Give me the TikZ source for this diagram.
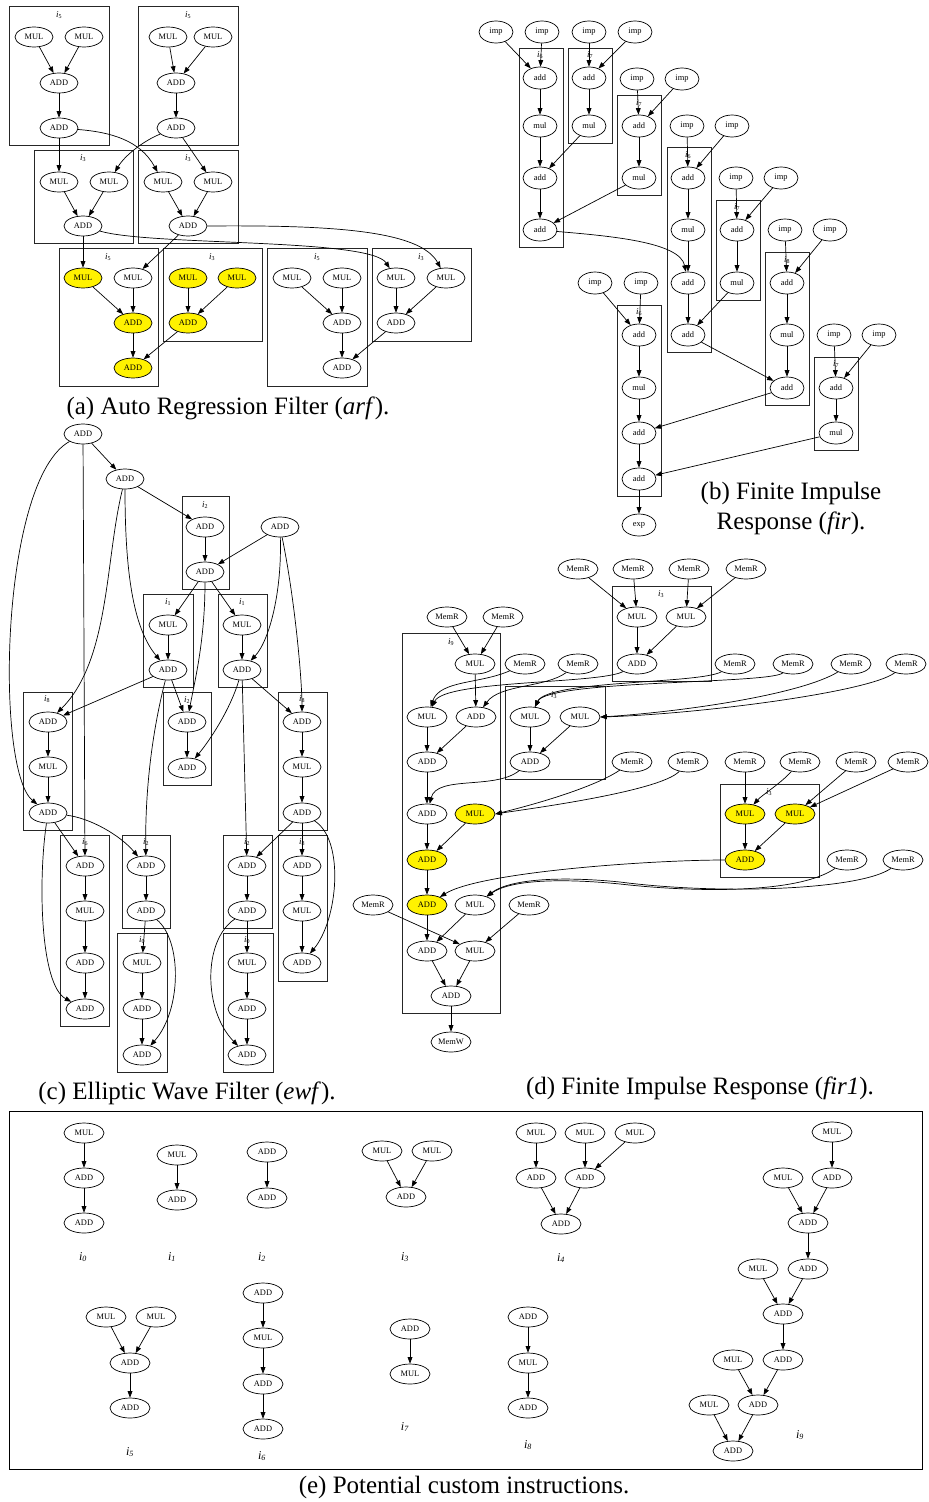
\documentclass[tikz,border=0pt]{standalone}
\usepackage{fontspec}
\setmainfont{Liberation Serif}
\usetikzlibrary{shapes.geometric,arrows.meta}
\newcommand{\ilab}[1]{\textit{i}\textsubscript{#1}}
\newcommand{\elab}[1]{\textit{i}\textsubscript{\textit{#1}}}
\begin{document}
\begin{tikzpicture}[x=1pt,y=-1pt,
 nd/.style={draw, ellipse, fill=white, minimum width=38pt, minimum height=20pt, inner sep=0pt, line width=0.7pt, font=\fontsize{8.4}{9}\selectfont},
 yn/.style={nd, fill=yellow},
 nb/.style={nd, minimum width=34pt, minimum height=22pt},
 nw/.style={nd, minimum width=40pt},
 ywn/.style={nw, fill=yellow},
 bx/.style={draw=black!85, line width=0.9pt},
 ar/.style={-{Triangle[length=6.5pt,width=4.8pt]}, line width=0.7pt},
 lb/.style={inner sep=0pt, font=\fontsize{9}{10}\selectfont},
 el/.style={inner sep=0pt, font=\fontsize{12}{14}\selectfont},
 captxt/.style={inner sep=0pt, font=\fontsize{25}{28}\selectfont},
]
\useasboundingbox (0,0) rectangle (929,1502);
% ================= (a) =================
\draw[bx] (9,6) rectangle (109,145);
\draw[bx] (138,6) rectangle (238,145);
\draw[bx] (34,150) rectangle (133,243);
\draw[bx] (138,150) rectangle (238,243);
\draw[bx] (59,248) rectangle (158,386);
\draw[bx] (163,248) rectangle (262,341);
\draw[bx] (267,248) rectangle (367,386);
\draw[bx] (372,248) rectangle (471,341);
\node[lb] (la1) at (59,15) {\ilab{5}};
\node[lb] (la2) at (188,15) {\ilab{5}};
\node[lb] (la3) at (83,158) {\ilab{3}};
\node[lb] (la4) at (188,158) {\ilab{3}};
\node[lb] (la5) at (108,257) {\ilab{5}};
\node[lb] (la6) at (212,257) {\ilab{3}};
\node[lb] (la7) at (317,257) {\ilab{5}};
\node[lb] (la8) at (421,257) {\ilab{3}};
\node[nd] (a1) at (34,37) {MUL};
\node[nd] (a2) at (84,37) {MUL};
\node[nd] (a3) at (59,83) {ADD};
\node[nd] (a4) at (59,128) {ADD};
\node[nd] (a5) at (168,37) {MUL};
\node[nd] (a6) at (213,37) {MUL};
\node[nd] (a7) at (176,83) {ADD};
\node[nd] (a8) at (176,128) {ADD};
\node[nd] (a9) at (59,182) {MUL};
\node[nd] (a10) at (109,182) {MUL};
\node[nd] (a11) at (83,226) {ADD};
\node[nd] (a12) at (163,182) {MUL};
\node[nd] (a13) at (213,182) {MUL};
\node[nd] (a14) at (188,226) {ADD};
\node[yn] (a15) at (83,278) {MUL};
\node[nd] (a16) at (133,278) {MUL};
\node[yn] (a17) at (133,323) {ADD};
\node[yn] (a18) at (133,368) {ADD};
\node[yn] (a19) at (188,278) {MUL};
\node[yn] (a20) at (237,278) {MUL};
\node[yn] (a21) at (188,323) {ADD};
\node[nd] (a22) at (292,278) {MUL};
\node[nd] (a23) at (342,278) {MUL};
\node[nd] (a24) at (342,323) {ADD};
\node[nd] (a25) at (342,368) {ADD};
\node[nd] (a26) at (396,278) {MUL};
\node[nd] (a27) at (446,278) {MUL};
\node[nd] (a28) at (396,323) {ADD};
\draw[ar] (a1) -- (a3); \draw[ar] (a2) -- (a3); \draw[ar] (a3) -- (a4);
\draw[ar] (a5) -- (a7); \draw[ar] (a6) -- (a7); \draw[ar] (a7) -- (a8);
\draw[ar] (a4) -- (a9);
\draw[ar] (a4) .. controls (110,132) and (140,140) .. (a12);
\draw[ar] (a8) .. controls (145,140) and (125,155) .. (a10);
\draw[ar] (a8) -- (a13);
\draw[ar] (a9) -- (a11); \draw[ar] (a10) -- (a11);
\draw[ar] (a12) -- (a14); \draw[ar] (a13) -- (a14);
\draw[ar] (a11) -- (a15);
\draw[ar] (a11) .. controls (150,246) and (370,238) .. (a26);
\draw[ar] (a14) -- (a16);
\draw[ar] (a14.east) .. controls (330,225) and (420,230) .. (a27);
\draw[ar] (a15) -- (a17); \draw[ar] (a16) -- (a17); \draw[ar] (a17) -- (a18);
\draw[ar] (a19) -- (a21); \draw[ar] (a20) -- (a21); \draw[ar] (a21) -- (a18);
\draw[ar] (a22) -- (a24); \draw[ar] (a23) -- (a24); \draw[ar] (a24) -- (a25);
\draw[ar] (a26) -- (a28); \draw[ar] (a27) -- (a28); \draw[ar] (a28) -- (a25);
\node[captxt] (capa) at (228,408) {(a) Auto Regression Filter (\textit{arf}).};
% ================= (b) =================
\draw[bx] (519,48) rectangle (563,247);
\draw[bx] (568,48) rectangle (612,143);
\draw[bx] (617,95) rectangle (661,195);
\draw[bx] (667,147) rectangle (711,352);
\draw[bx] (716,200) rectangle (760,300);
\draw[bx] (765,252) rectangle (809,405);
\draw[bx] (814,357) rectangle (858,450);
\draw[bx] (617,305) rectangle (661,496);
\node[lb] (lb1) at (540,55) {\ilab{6}};
\node[lb] (lb2) at (590,55) {\ilab{7}};
\node[lb] (lb3) at (639,103) {\ilab{7}};
\node[lb] (lb4) at (688,155) {\ilab{6}};
\node[lb] (lb5) at (737,207) {\ilab{7}};
\node[lb] (lb6) at (787,260) {\ilab{8}};
\node[lb] (lb7) at (836,364) {\ilab{7}};
\node[lb] (lb8) at (639,312) {\ilab{6}};
\node[nb] (b1) at (496,32) {imp};
\node[nb] (b2) at (542,32) {imp};
\node[nb] (b3) at (589,32) {imp};
\node[nb] (b4) at (635,32) {imp};
\node[nb] (b5) at (540,78) {add};
\node[nb] (b6) at (540,126) {mul};
\node[nb] (b7) at (540,178) {add};
\node[nb] (b8) at (540,230) {add};
\node[nb] (b9) at (589,78) {add};
\node[nb] (b10) at (589,126) {mul};
\node[nb] (b11) at (637,79) {imp};
\node[nb] (b12) at (682,79) {imp};
\node[nb] (b13) at (639,126) {add};
\node[nb] (b14) at (639,178) {mul};
\node[nb] (b15) at (687,126) {imp};
\node[nb] (b16) at (732,126) {imp};
\node[nb] (b17) at (688,178) {add};
\node[nb] (b18) at (688,230) {mul};
\node[nb] (b19) at (688,283) {add};
\node[nb] (b20) at (688,335) {add};
\node[nb] (b21) at (736,178) {imp};
\node[nb] (b22) at (781,178) {imp};
\node[nb] (b23) at (737,230) {add};
\node[nb] (b24) at (737,283) {mul};
\node[nb] (b25) at (785,230) {imp};
\node[nb] (b26) at (830,230) {imp};
\node[nb] (b27) at (787,283) {add};
\node[nb] (b28) at (787,335) {mul};
\node[nb] (b29) at (787,388) {add};
\node[nb] (b30) at (834,335) {imp};
\node[nb] (b31) at (879,335) {imp};
\node[nb] (b32) at (836,388) {add};
\node[nb] (b33) at (836,433) {mul};
\node[nb] (b34) at (595,283) {imp};
\node[nb] (b35) at (641,283) {imp};
\node[nb] (b36) at (639,335) {add};
\node[nb] (b37) at (639,388) {mul};
\node[nb] (b38) at (639,433) {add};
\node[nb] (b39) at (639,479) {add};
\node[nb] (b40) at (639,525) {exp};
\draw[ar] (b1) -- (b5); \draw[ar] (b2) -- (b5);
\draw[ar] (b5) -- (b6); \draw[ar] (b6) -- (b7); \draw[ar] (b7) -- (b8);
\draw[ar] (b3) -- (b9); \draw[ar] (b4) -- (b9); \draw[ar] (b9) -- (b10);
\draw[ar] (b10) -- (b7);
\draw[ar] (b11) -- (b13); \draw[ar] (b12) -- (b13); \draw[ar] (b13) -- (b14);
\draw[ar] (b14) -- (b8);
\draw[ar] (b8) .. controls (610,236) and (680,242) .. (b19);
\draw[ar] (b15) -- (b17); \draw[ar] (b16) -- (b17);
\draw[ar] (b17) -- (b18); \draw[ar] (b18) -- (b19); \draw[ar] (b19) -- (b20);
\draw[ar] (b21) -- (b23); \draw[ar] (b22) -- (b23); \draw[ar] (b23) -- (b24);
\draw[ar] (b24) -- (b20);
\draw[ar] (b25) -- (b27); \draw[ar] (b26) -- (b27);
\draw[ar] (b27) -- (b28); \draw[ar] (b28) -- (b29);
\draw[ar] (b20) -- (b29);
\draw[ar] (b30) -- (b32); \draw[ar] (b31) -- (b32); \draw[ar] (b32) -- (b33);
\draw[ar] (b29) -- (b38);
\draw[ar] (b33) -- (b39);
\draw[ar] (b34) -- (b36); \draw[ar] (b35) -- (b36);
\draw[ar] (b36) -- (b37); \draw[ar] (b37) -- (b38); \draw[ar] (b38) -- (b39); \draw[ar] (b39) -- (b40);
\node[captxt] (capb1) at (791,493) {(b) Finite Impulse};
\node[captxt] (capb2) at (791,523) {Response (\textit{fir}).};
% ================= (c) =================
\draw[bx] (182,496) rectangle (229,589);
\draw[bx] (143,594) rectangle (193,687);
\draw[bx] (218,594) rectangle (267,687);
\draw[bx] (23,692) rectangle (72,830);
\draw[bx] (163,692) rectangle (211,785);
\draw[bx] (278,692) rectangle (327,830);
\draw[bx] (60,835) rectangle (109,1026);
\draw[bx] (122,835) rectangle (170,928);
\draw[bx] (117,933) rectangle (167,1072);
\draw[bx] (223,835) rectangle (272,928);
\draw[bx] (223,933) rectangle (273,1072);
\draw[bx] (278,835) rectangle (327,981);
\node[lb] (lc1) at (205,505) {\ilab{2}};
\node[lb] (lc2) at (168,602) {\ilab{1}};
\node[lb] (lc3) at (242,602) {\ilab{1}};
\node[lb] (lc4) at (47,699) {\ilab{8}};
\node[lb] (lc5) at (187,700) {\ilab{2}};
\node[lb] (lc6) at (302,699) {\ilab{8}};
\node[lb] (lc7) at (85,842) {\ilab{6}};
\node[lb] (lc8) at (146,842) {\ilab{2}};
\node[lb] (lc9) at (142,940) {\ilab{0}};
\node[lb] (lc10) at (247,842) {\ilab{2}};
\node[lb] (lc11) at (247,940) {\ilab{0}};
\node[lb] (lc12) at (302,842) {\ilab{8}};
\node[nd] (c1) at (83,434) {ADD};
\node[nd] (c2) at (125,479) {ADD};
\node[nd] (c3) at (205,527) {ADD};
\node[nd] (c4) at (205,572) {ADD};
\node[nd] (c5) at (280,527) {ADD};
\node[nd] (c6) at (168,625) {MUL};
\node[nd] (c7) at (168,670) {ADD};
\node[nd] (c8) at (242,625) {MUL};
\node[nd] (c9) at (242,670) {ADD};
\node[nd] (c10) at (48,722) {ADD};
\node[nd] (c11) at (48,767) {MUL};
\node[nd] (c12) at (48,813) {ADD};
\node[nd] (c13) at (187,722) {ADD};
\node[nd] (c14) at (187,768) {ADD};
\node[nd] (c15) at (302,722) {ADD};
\node[nd] (c16) at (302,767) {MUL};
\node[nd] (c17) at (302,813) {ADD};
\node[nd] (c18) at (85,866) {ADD};
\node[nd] (c19) at (85,911) {MUL};
\node[nd] (c20) at (85,963) {ADD};
\node[nd] (c21) at (85,1009) {ADD};
\node[nd] (c22) at (146,866) {ADD};
\node[nd] (c23) at (146,911) {ADD};
\node[nd] (c24) at (142,963) {MUL};
\node[nd] (c25) at (142,1009) {ADD};
\node[nd] (c26) at (142,1055) {ADD};
\node[nd] (c27) at (247,866) {ADD};
\node[nd] (c28) at (247,911) {ADD};
\node[nd] (c29) at (247,963) {MUL};
\node[nd] (c30) at (247,1009) {ADD};
\node[nd] (c31) at (247,1055) {ADD};
\node[nd] (c32) at (302,866) {ADD};
\node[nd] (c33) at (302,911) {MUL};
\node[nd] (c34) at (302,963) {ADD};
\draw[ar] (c1) -- (c2);
\draw[ar] (c1) .. controls (0,480) and (-5,770) .. (c12);
\draw[ar] (c1) -- (c18);
\draw[ar] (c2) -- (c3);
\draw[ar] (c2) .. controls (105,560) and (110,660) .. (c10);
\draw[ar] (c2) .. controls (125,580) and (135,630) .. (c7);
\draw[ar] (c3) -- (c4); \draw[ar] (c5) -- (c4);
\draw[ar] (c5) .. controls (282,590) and (270,640) .. (c9);
\draw[ar] (c5) .. controls (295,600) and (302,680) .. (c15);
\draw[ar] (c4) -- (c6); \draw[ar] (c4) -- (c8);
\draw[ar] (c4) .. controls (205,640) and (195,680) .. (c13);
\draw[ar] (c6) -- (c7); \draw[ar] (c8) -- (c9);
\draw[ar] (c7) -- (c10); \draw[ar] (c7) -- (c13);
\draw[ar] (c7) .. controls (150,740) and (145,800) .. (c22);
\draw[ar] (c9) .. controls (230,710) and (210,740) .. (c14);
\draw[ar] (c9) -- (c27);
\draw[ar] (c9) -- (c15);
\draw[ar] (c13) -- (c14);
\draw[ar] (c10) -- (c11); \draw[ar] (c11) -- (c12);
\draw[ar] (c15) -- (c16); \draw[ar] (c16) -- (c17);
\draw[ar] (c12) -- (c18);
\draw[ar] (c12) .. controls (90,818) and (120,835) .. (c22);
\draw[ar] (c12) .. controls (38,880) and (40,985) .. (c21);
\draw[ar] (c17) -- (c27);
\draw[ar] (c17) -- (c32);
\draw[ar] (c17) .. controls (345,840) and (338,920) .. (c34);
\draw[ar] (c18) -- (c19); \draw[ar] (c19) -- (c20); \draw[ar] (c20) -- (c21);
\draw[ar] (c22) -- (c23); \draw[ar] (c23) -- (c24);
\draw[ar] (c23) .. controls (182,940) and (182,1010) .. (c26);
\draw[ar] (c24) -- (c25); \draw[ar] (c25) -- (c26);
\draw[ar] (c27) -- (c28); \draw[ar] (c28) -- (c29);
\draw[ar] (c28) .. controls (203,940) and (203,1010) .. (c31);
\draw[ar] (c29) -- (c30); \draw[ar] (c30) -- (c31);
\draw[ar] (c32) -- (c33); \draw[ar] (c33) -- (c34);
\node[captxt] (capc) at (187,1093) {(c) Elliptic Wave Filter (\textit{ewf}).};
% ================= (d) =================
\draw[bx] (612,586) rectangle (711,681);
\draw[bx] (402,633) rectangle (500,1013);
\draw[bx] (505,686) rectangle (605,779);
\draw[bx] (720,784) rectangle (819,877);
\node[lb] (ld1) at (661,594) {\ilab{3}};
\node[lb] (ld2) at (451,642) {\ilab{9}};
\node[lb] (ld3) at (554,695) {\ilab{3}};
\node[lb] (ld4) at (769,792) {\ilab{3}};
\node[nw] (d1) at (578,569) {MemR};
\node[nw] (d2) at (633,569) {MemR};
\node[nw] (d3) at (689,569) {MemR};
\node[nw] (d4) at (746,569) {MemR};
\node[nw] (d5) at (637,617) {MUL};
\node[nw] (d6) at (686,617) {MUL};
\node[nw] (d7) at (637,664) {ADD};
\node[nw] (d8) at (447,617) {MemR};
\node[nw] (d9) at (503,617) {MemR};
\node[nw] (d10) at (475,664) {MUL};
\node[nw] (d11) at (525,664) {MemR};
\node[nw] (d12) at (578,664) {MemR};
\node[nw] (d13) at (735,664) {MemR};
\node[nw] (d14) at (793,664) {MemR};
\node[nw] (d15) at (851,664) {MemR};
\node[nw] (d16) at (906,664) {MemR};
\node[nw] (d17) at (427,717) {MUL};
\node[nw] (d18) at (476,717) {ADD};
\node[nw] (d19) at (530,717) {MUL};
\node[nw] (d20) at (580,717) {MUL};
\node[nw] (d21) at (530,762) {ADD};
\node[nw] (d22) at (427,762) {ADD};
\node[nw] (d23) at (632,762) {MemR};
\node[nw] (d24) at (688,762) {MemR};
\node[nw] (d25) at (745,762) {MemR};
\node[nw] (d26) at (800,762) {MemR};
\node[nw] (d27) at (856,762) {MemR};
\node[nw] (d28) at (908,762) {MemR};
\node[nw] (d29) at (427,814) {ADD};
\node[ywn] (d30) at (475,814) {MUL};
\node[ywn] (d31) at (745,814) {MUL};
\node[ywn] (d32) at (795,814) {MUL};
\node[ywn] (d33) at (745,860) {ADD};
\node[nw] (d34) at (847,860) {MemR};
\node[nw] (d35) at (903,860) {MemR};
\node[ywn] (d36) at (427,860) {ADD};
\node[ywn] (d37) at (427,905) {ADD};
\node[nw] (d38) at (475,905) {MUL};
\node[nw] (d39) at (373,905) {MemR};
\node[nw] (d40) at (529,905) {MemR};
\node[nw] (d41) at (427,951) {ADD};
\node[nw] (d42) at (475,951) {MUL};
\node[nw] (d43) at (451,996) {ADD};
\node[nw] (d44) at (451,1042) {MemW};
\draw[ar] (d1) -- (d5); \draw[ar] (d2) -- (d5);
\draw[ar] (d3) -- (d6); \draw[ar] (d4) -- (d6);
\draw[ar] (d5) -- (d7); \draw[ar] (d6) -- (d7);
\draw[ar] (d8) -- (d10); \draw[ar] (d9) -- (d10);
\draw[ar] (d10) -- (d18);
\draw[ar] (d11) .. controls (480,684) and (440,680) .. (d17);
\draw[ar] (d7) .. controls (600,684) and (445,680) .. (d17);
\draw[ar] (d12) .. controls (545,688) and (500,684) .. (d18);
\draw[ar] (d13) .. controls (700,684) and (548,680) .. (d19);
\draw[ar] (d14) .. controls (770,684) and (548,680) .. (d19);
\draw[ar] (d15) .. controls (800,695) and (680,712) .. (d20.east);
\draw[ar] (d16) .. controls (870,692) and (700,714) .. (d20.east);
\draw[ar] (d17) -- (d22); \draw[ar] (d18) -- (d22);
\draw[ar] (d19) -- (d21); \draw[ar] (d20) -- (d21);
\draw[ar] (d22) -- (d29);
\draw[ar] (d21) .. controls (495,790) and (437,775) .. (d29);
\draw[ar] (d23) .. controls (590,790) and (520,808) .. (d30.east);
\draw[ar] (d24) .. controls (660,792) and (520,810) .. (d30.east);
\draw[ar] (d25) -- (d31);
\draw[ar] (d26) .. controls (780,784) and (762,795) .. (d31);
\draw[ar] (d27) -- (d32);
\draw[ar] (d28) -- (d32);
\draw[ar] (d31) -- (d33); \draw[ar] (d32) -- (d33);
\draw[ar] (d29) -- (d36); \draw[ar] (d30) -- (d36);
\draw[ar] (d36) -- (d37);
\draw[ar] (d33.west) .. controls (650,860) and (480,872) .. (d37);
\draw[ar] (d34) .. controls (800,893) and (700,893) .. (620,884) .. controls (560,878) and (510,880) .. (d38);
\draw[ar] (d35) .. controls (860,890) and (720,895) .. (620,882) .. controls (560,876) and (510,879) .. (d38);
\draw[ar] (d37) -- (d41); \draw[ar] (d38) -- (d41);
\draw[ar] (d39) -- (d42); \draw[ar] (d40) -- (d42);
\draw[ar] (d41) -- (d43); \draw[ar] (d42) -- (d43); \draw[ar] (d43) -- (d44);
\node[captxt] (capd) at (700,1088) {(d) Finite Impulse Response (\textit{fir1}).};
% ================= (e) =================
\draw[line width=0.8pt] (9,1111) rectangle (922,1469);
\node[nw] (e1) at (84,1133) {MUL};
\node[nw] (e2) at (84,1178) {ADD};
\node[nw] (e3) at (84,1223) {ADD};
\node[nw] (e4) at (177,1155) {MUL};
\node[nw] (e5) at (177,1200) {ADD};
\node[nw] (e6) at (267,1152) {ADD};
\node[nw] (e7) at (267,1198) {ADD};
\node[nw] (e8) at (382,1151) {MUL};
\node[nw] (e9) at (432,1151) {MUL};
\node[nw] (e10) at (406,1197) {ADD};
\node[nw] (e11) at (536,1133) {MUL};
\node[nw] (e12) at (585,1133) {MUL};
\node[nw] (e13) at (635,1133) {MUL};
\node[nw] (e14) at (536,1178) {ADD};
\node[nw] (e15) at (585,1178) {ADD};
\node[nw] (e16) at (561,1224) {ADD};
\node[nw] (e17) at (106,1317) {MUL};
\node[nw] (e18) at (156,1317) {MUL};
\node[nw] (e19) at (130,1363) {ADD};
\node[nw] (e20) at (130,1408) {ADD};
\node[nw] (e21) at (263,1293) {ADD};
\node[nw] (e22) at (263,1338) {MUL};
\node[nw] (e23) at (263,1384) {ADD};
\node[nw] (e24) at (263,1429) {ADD};
\node[nw] (e25) at (410,1329) {ADD};
\node[nw] (e26) at (410,1374) {MUL};
\node[nw] (e27) at (528,1317) {ADD};
\node[nw] (e28) at (528,1363) {MUL};
\node[nw] (e29) at (528,1408) {ADD};
\node[nw] (e30) at (832,1132) {MUL};
\node[nw] (e31) at (783,1178) {MUL};
\node[nw] (e32) at (832,1178) {ADD};
\node[nw] (e33) at (808,1223) {ADD};
\node[nw] (e34) at (758,1269) {MUL};
\node[nw] (e35) at (808,1269) {ADD};
\node[nw] (e36) at (783,1314) {ADD};
\node[nw] (e37) at (733,1360) {MUL};
\node[nw] (e38) at (783,1360) {ADD};
\node[nw] (e39) at (709,1405) {MUL};
\node[nw] (e40) at (758,1405) {ADD};
\node[nw] (e41) at (733,1451) {ADD};
\draw[ar] (e1) -- (e2); \draw[ar] (e2) -- (e3);
\draw[ar] (e4) -- (e5);
\draw[ar] (e6) -- (e7);
\draw[ar] (e8) -- (e10); \draw[ar] (e9) -- (e10);
\draw[ar] (e11) -- (e14); \draw[ar] (e12) -- (e15); \draw[ar] (e13) -- (e15);
\draw[ar] (e14) -- (e16); \draw[ar] (e15) -- (e16);
\draw[ar] (e17) -- (e19); \draw[ar] (e18) -- (e19); \draw[ar] (e19) -- (e20);
\draw[ar] (e21) -- (e22); \draw[ar] (e22) -- (e23); \draw[ar] (e23) -- (e24);
\draw[ar] (e25) -- (e26);
\draw[ar] (e27) -- (e28); \draw[ar] (e28) -- (e29);
\draw[ar] (e30) -- (e32);
\draw[ar] (e31) -- (e33); \draw[ar] (e32) -- (e33);
\draw[ar] (e33) -- (e35);
\draw[ar] (e34) -- (e36); \draw[ar] (e35) -- (e36);
\draw[ar] (e36) -- (e38);
\draw[ar] (e37) -- (e40); \draw[ar] (e38) -- (e40);
\draw[ar] (e39) -- (e41); \draw[ar] (e40) -- (e41);
\node[el] (le0) at (83,1257) {\elab{0}};
\node[el] (le1) at (172,1257) {\elab{1}};
\node[el] (le2) at (262,1257) {\elab{2}};
\node[el] (le3) at (405,1257) {\elab{3}};
\node[el] (le4) at (561,1258) {\elab{4}};
\node[el] (le5) at (130,1452) {\elab{5}};
\node[el] (le6) at (262,1456) {\elab{6}};
\node[el] (le7) at (405,1427) {\elab{7}};
\node[el] (le8) at (528,1445) {\elab{8}};
\node[el] (le9) at (800,1435) {\elab{9}};
\node[captxt] (cape) at (464,1487) {(e) Potential custom instructions.};
\end{tikzpicture}
\end{document}
